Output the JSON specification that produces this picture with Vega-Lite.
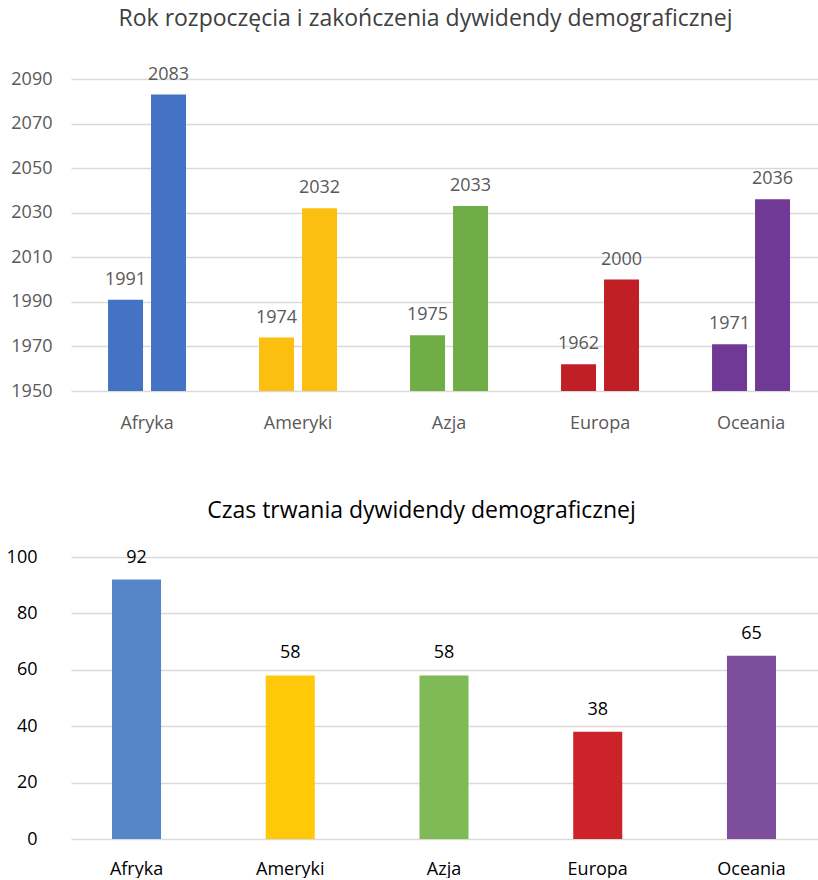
{
  "$schema": "https://vega.github.io/schema/vega-lite/v6.json",
  "padding": {"left": 6, "top": 7, "right": 0, "bottom": 0},
  "background": "white",
  "config": {
    "font": "Open Sans",
    "view": {"stroke": null},
    "concat": {"spacing": 68}
  },
  "resolve": {"scale": {"color": "independent"}},
  "vconcat": [
    {
      "width": 747,
      "height": 312,
      "title": {"text": "Rok rozpoczęcia i zakończenia dywidendy demograficznej", "fontSize": 23, "fontWeight": "normal", "color": "#404040", "baseline": "alphabetic", "offset": 17, "anchor": "middle", "dx": -19},
      "data": {"values": [
        {"region": "Afryka", "phase": "start", "year": 1991},
        {"region": "Afryka", "phase": "end", "year": 2083},
        {"region": "Ameryki", "phase": "start", "year": 1974},
        {"region": "Ameryki", "phase": "end", "year": 2032},
        {"region": "Azja", "phase": "start", "year": 1975},
        {"region": "Azja", "phase": "end", "year": 2033},
        {"region": "Europa", "phase": "start", "year": 1962},
        {"region": "Europa", "phase": "end", "year": 2000},
        {"region": "Oceania", "phase": "start", "year": 1971},
        {"region": "Oceania", "phase": "end", "year": 2036}
      ]},
      "encoding": {
        "x": {"field": "region", "type": "nominal", "sort": null,
          "scale": {"paddingInner": 0.253, "paddingOuter": 0.1, "align": 0.65},
          "axis": {"title": null, "labelAngle": 0, "domain": false, "ticks": false, "labelFontSize": 18, "labelColor": "#595959", "labelPadding": 23}},
        "xOffset": {"field": "phase", "type": "nominal", "sort": ["start", "end"],
          "scale": {"paddingInner": 0.186, "paddingOuter": 0.405}},
        "y": {"field": "year", "type": "quantitative",
          "scale": {"domain": [1950, 2090], "zero": false, "nice": false},
          "axis": {"title": null, "format": "d", "values": [1950, 1970, 1990, 2010, 2030, 2050, 2070, 2090], "domain": false, "ticks": false, "labelFontSize": 18, "labelColor": "#595959", "labelPadding": 19, "gridColor": "#d9d9d9", "gridWidth": 1.5}}
      },
      "layer": [
        {"mark": {"type": "bar", "clip": true},
          "encoding": {
            "y2": {"datum": 1950},
            "color": {"field": "region", "type": "nominal", "legend": null,
              "scale": {"domain": ["Afryka", "Ameryki", "Azja", "Europa", "Oceania"], "range": ["#4472C4", "#FBBF10", "#70AD47", "#C01F26", "#703996"]}}
          }},
        {"mark": {"type": "text", "baseline": "alphabetic", "dy": -15, "fontSize": 18, "color": "#595959"},
          "encoding": {"text": {"field": "year", "type": "quantitative", "format": "d"}}}
      ]
    },
    {
      "width": 747,
      "height": 282,
      "title": {"text": "Czas trwania dywidendy demograficznej", "fontSize": 23, "fontWeight": "normal", "color": "#000000", "baseline": "alphabetic", "offset": 7, "anchor": "middle", "dx": -23},
      "data": {"values": [
        {"region": "Afryka", "years": 92},
        {"region": "Ameryki", "years": 58},
        {"region": "Azja", "years": 58},
        {"region": "Europa", "years": 38},
        {"region": "Oceania", "years": 65}
      ]},
      "encoding": {
        "x": {"field": "region", "type": "nominal", "sort": null,
          "scale": {"paddingInner": 0.681, "paddingOuter": 0.27, "align": 0.494},
          "axis": {"title": null, "labelAngle": 0, "domain": false, "ticks": false, "labelFontSize": 18, "labelColor": "#000000", "labelPadding": 21}},
        "y": {"field": "years", "type": "quantitative",
          "scale": {"domain": [0, 100], "nice": false},
          "axis": {"title": null, "values": [0, 20, 40, 60, 80, 100], "domain": false, "ticks": false, "labelFontSize": 18, "labelColor": "#000000", "labelPadding": 34, "gridColor": "#d9d9d9", "gridWidth": 1.5}}
      },
      "layer": [
        {"mark": {"type": "bar"},
          "encoding": {
            "color": {"field": "region", "type": "nominal", "legend": null,
              "scale": {"domain": ["Afryka", "Ameryki", "Azja", "Europa", "Oceania"], "range": ["#5586C8", "#FFC90A", "#7FBA57", "#CC2229", "#7D4E9C"]}}
          }},
        {"mark": {"type": "text", "baseline": "alphabetic", "dy": -17, "fontSize": 18, "color": "#000000"},
          "encoding": {"text": {"field": "years", "type": "quantitative"}}}
      ]
    }
  ]
}
